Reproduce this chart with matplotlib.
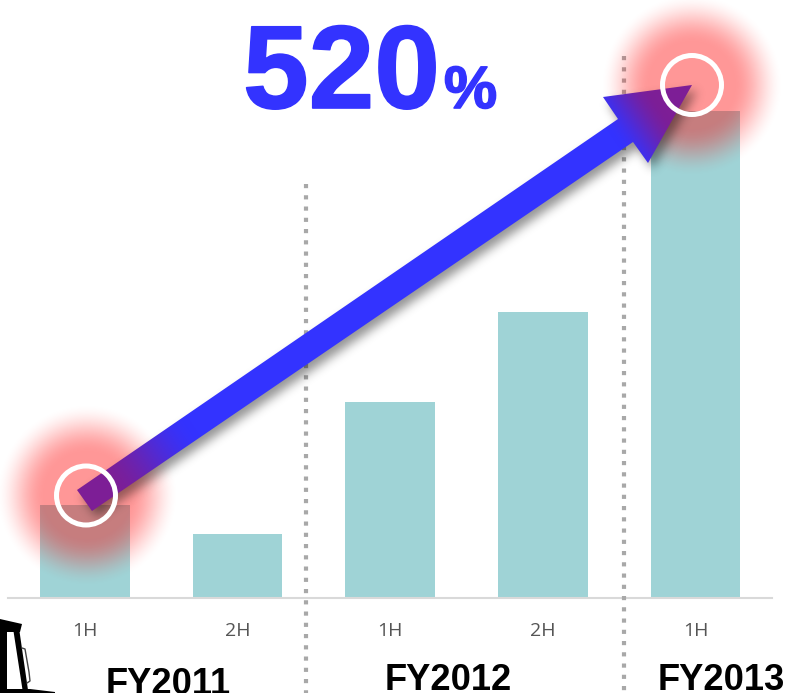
import numpy as np
import matplotlib
matplotlib.use("Agg")
import matplotlib.pyplot as plt
import matplotlib.patheffects as pe
from matplotlib.patches import Polygon, Circle
from matplotlib.path import Path

# ---- data ----
half_labels = ["1H", "2H", "1H", "2H", "1H"]
half_values = [100, 69, 211, 307, 524]
fiscal_years = ["FY2011", "FY2012", "FY2013"]
growth_number = "520"
growth_unit = "%"

W, H = 788, 693
BAR = "#9fd3d6"
BLUE = np.array([51, 51, 255]) / 255
PURPLE = np.array([125, 30, 150]) / 255

plt.rcParams["font.family"] = ["Liberation Sans", "DejaVu Sans"]
fig = plt.figure(figsize=(W / 100, H / 100), dpi=100)

# chart axes
ax = fig.add_axes([8 / W, (H - 598) / H, (772 - 8) / W, 598 / H])
ax.bar(range(len(half_values)), half_values, width=0.588, color=BAR, zorder=2)
ax.set_xlim(-0.5046, 4.502)
ax.set_ylim(0, 598 / 0.93)
ax.set_xticks(range(len(half_labels)))
ax.set_xticklabels(half_labels, fontsize=14, color="#555555", family=["Open Sans"])
ax.tick_params(axis="x", length=0, pad=17.5)
ax.set_yticks([])
for s in ("top", "left", "right"):
    ax.spines[s].set_visible(False)
ax.spines["bottom"].set_color("#d9d9d9")
ax.spines["bottom"].set_linewidth(1.5)
ax.patch.set_alpha(0)

# pixel overlay
ov = fig.add_axes([0, 0, 1, 1], zorder=5)
ov.patch.set_alpha(0)
ov.axis("off")

yy, xx = np.mgrid[0:H, 0:W] + 0.5


def smooth(a):
    a = np.clip(a, 0, 1)
    return a * a * (3 - 2 * a)


# dotted dividers
for x, top in ((306, 184), (624, 56)):
    ov.plot([x, x], [top, H], color="#a8a8a8", lw=3.0,
            dashes=(1.0, 1.7), dash_capstyle="butt", zorder=1)

# red glows
for cx, cy in ((87, 495), (692, 85)):
    r = np.hypot(xx - cx, yy - cy)
    a = 0.41 * (1 - smooth((r - 42) / 50))
    img = np.zeros((H, W, 4))
    img[..., 0] = 1
    img[..., 3] = a
    ov.imshow(img, extent=(0, W, H, 0), aspect="auto", zorder=2, interpolation="bilinear")

# arrow outline
arrow = np.array([(77, 490), (618, 119), (603, 97), (692, 85),
                  (648, 163), (633, 142), (92, 511)], float)

# arrow shadow
mask = Path(arrow + [5, 6]).contains_points(
    np.c_[xx.ravel(), yy.ravel()]).reshape(H, W).astype(float)
k = np.exp(-0.5 * (np.arange(-15, 16) / 5.0) ** 2)
k /= k.sum()
blur = np.apply_along_axis(lambda v: np.convolve(v, k, mode="same"), 0, mask)
blur = np.apply_along_axis(lambda v: np.convolve(v, k, mode="same"), 1, blur)
shadow = np.zeros((H, W, 4))
shadow[..., 3] = blur * 0.42
ov.imshow(shadow, extent=(0, W, H, 0), aspect="auto", zorder=3, interpolation="bilinear")

# gradient arrow body
p0 = np.array([84.5, 500.5])
p1 = np.array([692.0, 85.0])
d = p1 - p0
t = ((xx - p0[0]) * d[0] + (yy - p0[1]) * d[1]) / (d @ d)
mix = np.maximum(1 - smooth((t - 0.04) / 0.14), smooth((t - 0.87) / 0.08))
grad = BLUE[None, None, :] * (1 - mix[..., None]) + PURPLE[None, None, :] * mix[..., None]
im = ov.imshow(grad, extent=(0, W, H, 0), aspect="auto", zorder=4, interpolation="bilinear")
clip = Polygon(arrow, closed=True, transform=ov.transData, fc="none", ec="none")
ov.add_patch(clip)
im.set_clip_path(clip)

# white rings
for cx, cy in ((86, 495.5), (692, 85)):
    ov.add_patch(Circle((cx, cy), 29.5, fc="none", ec="white", lw=3.6, zorder=5))

# forklift silhouette
for pts in ([(0, 619), (22, 624), (20, 632), (0, 632)],
            [(0, 625), (7, 625), (7, 693), (0, 693)],
            [(13, 628), (19, 628), (28, 690), (23, 693)],
            [(0, 689), (30, 689), (55, 692), (55, 693), (0, 693)]):
    ov.add_patch(Polygon(pts, closed=True, fc="black", ec="none", zorder=5))
ov.plot([22, 25, 29, 30, 27], [648, 649, 672, 681, 683], color="#444444", lw=1, zorder=5)

# headline
stroke = [pe.withStroke(linewidth=1.2, foreground=BLUE)]
ov.text(243, 108, growth_number, fontsize=85, fontweight="bold", color=BLUE,
        ha="left", va="baseline", zorder=7, path_effects=stroke)
ov.text(444, 108, growth_unit, fontsize=43, fontweight="bold", color=BLUE,
        ha="left", va="baseline", zorder=7, path_effects=stroke)

# fiscal-year labels
for label, x, base in zip(fiscal_years, (168.5, 448, 721.5), (694, 690, 690)):
    ov.text(x, base, label, fontsize=26.2, fontweight="bold", color="black",
            ha="center", va="baseline", zorder=7)

ov.set_xlim(0, W)
ov.set_ylim(H, 0)
fig.savefig("out.png", dpi=100)
